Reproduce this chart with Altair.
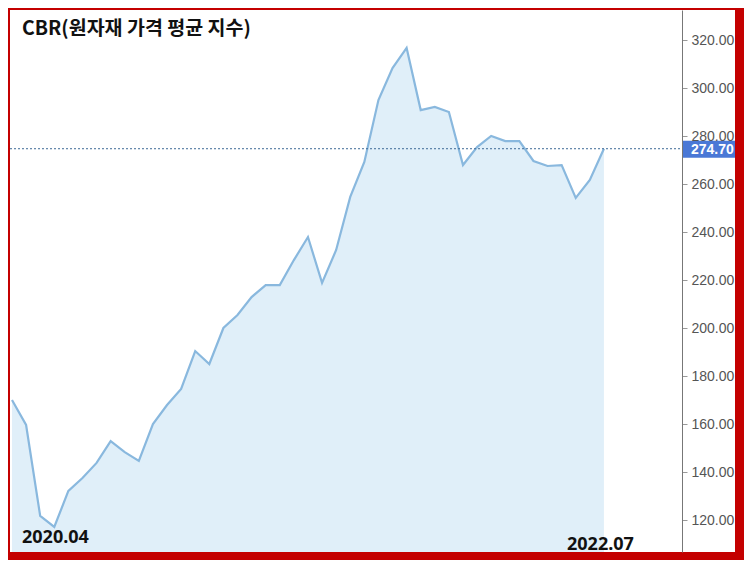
import altair as alt
import pandas as pd

# --- data ---
values = [170.0, 159.6, 121.7, 117.1, 132.1, 137.5, 143.8, 152.9, 148.3, 144.6,
          160.0, 167.9, 174.6, 190.4, 185.0, 200.0, 205.4, 212.9, 217.9, 217.9,
          228.3, 237.9, 218.8, 232.5, 254.6, 269.2, 295.0, 308.3, 316.7, 290.8,
          292.1, 290.0, 267.9, 275.4, 280.0, 277.9, 277.9, 269.6, 267.5, 267.9,
          254.2, 261.7, 274.7]
index = list(range(len(values)))
last_value = [274.70]
tick_values = [120, 140, 160, 180, 200, 220, 240, 260, 280, 300, 320]
title_text = "CBR(원자재 가격 평균 지수)"
start_label = "2020.04"
end_label = "2022.07"

df = pd.DataFrame({"i": index, "v": values})
df_last = pd.DataFrame({"v": last_value})
df_one = pd.DataFrame({"a": [0]})

W, H = 672, 542
Y_MIN, Y_MAX = 106.67, 332.5

x_enc = alt.X("i:Q", scale=alt.Scale(domain=[-0.142, 47.54], nice=False, zero=False), axis=None)
y_axis = alt.Axis(orient="right", values=tick_values, format=".2f", title=None, grid=False,
                  labelFont="Liberation Sans", labelFontSize=14, labelColor="#555555",
                  tickColor="#999999", tickSize=5, domainColor="#777777", labelPadding=4,
                  zindex=1)
y_scale = alt.Scale(domain=[Y_MIN, Y_MAX], nice=False, zero=False)

def y_enc():
    return alt.Y("v:Q", scale=y_scale, axis=y_axis)

bg = alt.Chart(df_one).mark_rect(color="white").encode(
    x=alt.value(0), x2=alt.value(725), y=alt.value(0), y2=alt.value(H))

area = alt.Chart(df).mark_area(color="#e0eff9", opacity=1).encode(
    x=x_enc, y=y_enc(), y2=alt.datum(Y_MIN))

line = alt.Chart(df).mark_line(color="#89b8de", strokeWidth=2.2).encode(
    x=x_enc, y=y_enc())

rule = alt.Chart(df_last).mark_rule(color="#3e6a96", strokeDash=[2, 2], strokeWidth=1).encode(
    y=y_enc(), x=alt.value(0), x2=alt.value(W))

box = alt.Chart(df_last).mark_rect(color="#4a78d6", yOffset=-8, y2Offset=9).encode(
    y=y_enc(), y2=alt.Y2("v:Q"), x=alt.value(W + 1), x2=alt.value(725))

box_text = alt.Chart(df_last).mark_text(
    color="white", font="Liberation Sans", fontSize=14, fontWeight="bold",
    align="left", baseline="middle", dy=1).encode(
    y=y_enc(), x=alt.value(W + 9), text=alt.Text("v:Q", format=".2f"))

title = alt.Chart(df_one).mark_text(
    text=title_text, font="Noto Sans CJK KR", fontSize=19.5, fontWeight="bold",
    color="#111111", align="left", baseline="alphabetic").encode(
    x=alt.value(12), y=alt.value(25))

lab1 = alt.Chart(df_one).mark_text(
    text=start_label, font="Noto Sans", fontSize=18, fontWeight="bold",
    color="#111111", align="left", baseline="alphabetic").encode(
    x=alt.value(12), y=alt.value(533))

lab2 = alt.Chart(df_one).mark_text(
    text=end_label, font="Noto Sans", fontSize=18, fontWeight="bold",
    color="#111111", align="left", baseline="alphabetic").encode(
    x=alt.value(557), y=alt.value(540))

chart = alt.layer(bg, area, line, rule, box, box_text, title, lab1, lab2).properties(
    width=W, height=H,
    padding={"left": 2, "top": 2, "right": 62, "bottom": 8},
    autosize=alt.AutoSizeParams(type="none"),
    background="#c40000",
).configure_view(stroke=None)

chart.save("out.html", embed_options={"renderer": "svg", "actions": False})
